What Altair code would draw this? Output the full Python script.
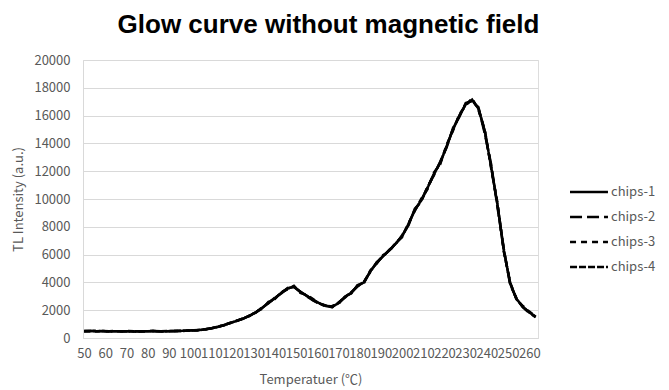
import altair as alt
import pandas as pd

temps = list(range(50, 264, 3))

chips1 = [500, 510, 490, 500, 480, 490, 480, 490, 470, 480,
          490, 500, 480, 490, 500, 510, 520, 540, 570, 620,
          700, 800, 930, 1080, 1230, 1400, 1600, 1850, 2150, 2550,
          2850, 3250, 3550, 3700, 3300, 3050, 2750, 2500, 2300, 2250,
          2500, 2950, 3250, 3750, 4000, 4800, 5400, 5900, 6300, 6800,
          7300, 8200, 9200, 9900, 10800, 11800, 12600, 13800, 15000, 16000,
          16800, 17150, 16500, 14900, 12300, 9600, 6300, 3900, 2800, 2250,
          1850, 1530]
chips2 = [480, 500, 500, 490, 490, 500, 470, 480, 480, 490,
          480, 510, 490, 480, 490, 520, 530, 550, 560, 630,
          690, 810, 920, 1100, 1250, 1380, 1620, 1830, 2200, 2500,
          2900, 3200, 3600, 3650, 3350, 3000, 2700, 2450, 2350, 2200,
          2550, 2900, 3300, 3700, 4050, 4750, 5450, 5850, 6350, 6750,
          7400, 8100, 9300, 9800, 10900, 11700, 12700, 13700, 15100, 15900,
          16900, 17050, 16600, 14700, 12500, 9400, 6400, 3800, 2850, 2200,
          1800, 1500]
chips3 = [510, 490, 480, 500, 480, 480, 490, 500, 480, 470,
          500, 490, 480, 500, 510, 500, 530, 540, 580, 610,
          710, 790, 940, 1070, 1220, 1420, 1580, 1870, 2100, 2600,
          2800, 3300, 3500, 3750, 3250, 3100, 2800, 2500, 2250, 2300,
          2450, 3000, 3200, 3800, 3950, 4850, 5350, 5950, 6250, 6850,
          7250, 8250, 9150, 10000, 10700, 11900, 12500, 13900, 14900, 16100,
          16700, 17250, 16400, 15000, 12200, 9700, 6200, 4000, 2750, 2300,
          1900, 1550]
chips4 = [490, 500, 490, 510, 490, 490, 480, 490, 470, 490,
          490, 500, 470, 490, 500, 500, 520, 550, 560, 620,
          700, 800, 910, 1090, 1240, 1390, 1610, 1840, 2170, 2530,
          2880, 3230, 3580, 3680, 3320, 3030, 2730, 2480, 2320, 2260,
          2520, 2970, 3230, 3770, 4020, 4780, 5420, 5880, 6320, 6780,
          7330, 8180, 9230, 9880, 10830, 11780, 12630, 13780, 15030, 15980,
          16830, 17100, 16550, 14850, 12350, 9550, 6250, 3950, 2780, 2230,
          1830, 1520]

series_names = ["chips-1", "chips-2", "chips-3", "chips-4"]
x_ticks = list(range(50, 261, 10))
y_ticks = list(range(0, 20001, 2000))

rows = []
for name, vals in zip(series_names, [chips1, chips2, chips3, chips4]):
    for t, v in zip(temps, vals):
        rows.append({"temp": t, "value": v, "series": name})
df = pd.DataFrame(rows)

FONT = "Noto Sans CJK KR"
TITLE_FONT = "Liberation Sans"
GRAY = "#595959"

chart = alt.Chart(df).mark_line(color="black").encode(
    x=alt.X("temp:Q",
            scale=alt.Scale(domain=[49.5, 264.1], nice=False, zero=False),
            axis=alt.Axis(values=x_ticks, title="Temperatuer (℃)", grid=False,
                          ticks=False, tickSize=0, labelPadding=9,
                          domainColor="#d9d9d9", labelColor=GRAY, labelFontSize=13,
                          labelFont=FONT, titleFont=FONT, titleFontSize=13,
                          titleColor=GRAY, titleFontWeight="normal",
                          titlePadding=13, labelOverlap=False, labelFlush=False)),
    y=alt.Y("value:Q",
            scale=alt.Scale(domain=[0, 20000], nice=False),
            axis=alt.Axis(values=y_ticks, title="TL Intensity (a.u.)", format="d",
                          ticks=False, tickSize=0, labelPadding=13,
                          domainColor="#d9d9d9", gridColor="#d9d9d9",
                          labelColor=GRAY, labelFontSize=13, labelFont=FONT,
                          titleFont=FONT, titleFontSize=13, titleColor=GRAY,
                          titleFontWeight="normal", titlePadding=8)),
    detail="series:N",
    strokeDash=alt.StrokeDash(
        "series:N",
        scale=alt.Scale(domain=series_names,
                        range=[[1, 0], [12, 5], [6, 5], [7, 2]]),
        legend=alt.Legend(title=None, orient="none", legendX=498, legendY=124,
                          symbolType="M-3,0H3", symbolSize=160,
                          symbolStrokeColor="black", symbolStrokeWidth=2.5,
                          labelFont=FONT, labelFontSize=13, labelColor=GRAY,
                          labelOffset=14, rowPadding=10, padding=0)),
    strokeWidth=alt.StrokeWidth(
        "series:N",
        scale=alt.Scale(domain=series_names, range=[2.5, 2.5, 2.5, 3]),
        legend=None),
).properties(
    width=455,
    height=278,
    title=alt.TitleParams("Glow curve without magnetic field", fontSize=26,
                          font=TITLE_FONT, fontWeight="bold", color="black",
                          anchor="middle", dx=18, offset=16),
    autosize=alt.AutoSizeParams(type="none"),
    padding={"left": 75, "top": 52, "right": 123, "bottom": 52},
).configure_view(stroke=None).configure(background="white")

chart.save("out.html", embed_options={"renderer": "svg", "actions": False})
